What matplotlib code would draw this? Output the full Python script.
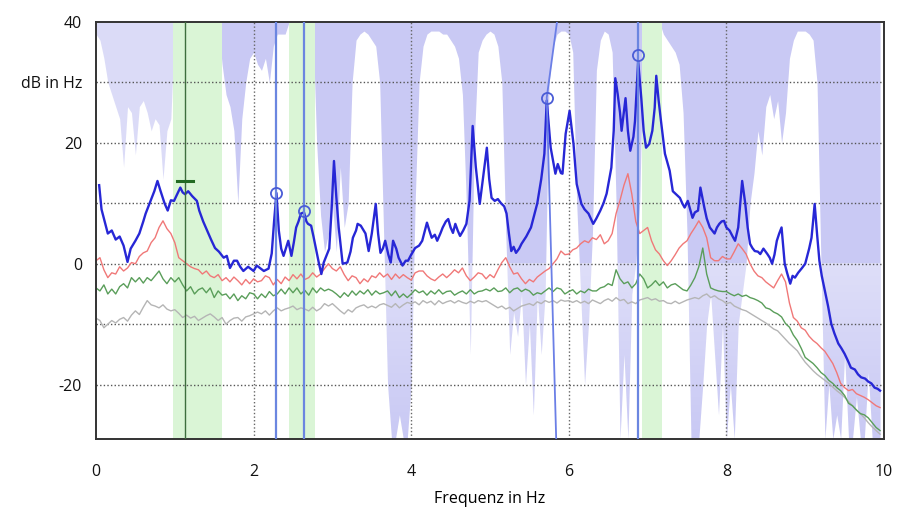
import numpy as np
import matplotlib
matplotlib.use("Agg")
from matplotlib import pyplot as plt

# Spectrum of the main channel (blue)
blue_f = [0.04, 0.07, 0.1, 0.15, 0.2, 0.25, 0.3, 0.35, 0.4, 0.44, 0.5, 0.55, 0.6, 0.63, 0.68, 0.74, 0.78,
          0.82, 0.87, 0.91, 0.95, 0.99, 1.03, 1.07, 1.1, 1.13, 1.17, 1.22, 1.28, 1.31, 1.36, 1.41, 1.46,
          1.51, 1.56, 1.62, 1.66, 1.7, 1.75, 1.79, 1.83, 1.87, 1.93, 2.0, 2.04, 2.08, 2.13, 2.19, 2.23,
          2.26, 2.29, 2.32, 2.35, 2.38, 2.44, 2.48, 2.51, 2.54, 2.57, 2.6, 2.64, 2.67, 2.69, 2.73, 2.76,
          2.79, 2.83, 2.86, 2.89, 2.93, 2.96, 2.99, 3.02, 3.05, 3.08, 3.13, 3.19, 3.23, 3.26, 3.3, 3.32,
          3.36, 3.42, 3.46, 3.5, 3.55, 3.58, 3.61, 3.64, 3.67, 3.71, 3.74, 3.77, 3.81, 3.84, 3.89, 3.93,
          3.96, 4.0, 4.05, 4.1, 4.14, 4.2, 4.23, 4.26, 4.3, 4.33, 4.37, 4.4, 4.44, 4.47, 4.5, 4.53, 4.56,
          4.59, 4.62, 4.66, 4.7, 4.74, 4.78, 4.82, 4.87, 4.92, 4.96, 4.99, 5.02, 5.06, 5.1, 5.14, 5.18,
          5.21, 5.24, 5.27, 5.3, 5.33, 5.37, 5.4, 5.46, 5.52, 5.56, 5.6, 5.65, 5.69, 5.72, 5.77, 5.8,
          5.83, 5.86, 5.9, 5.92, 5.96, 6.01, 6.06, 6.1, 6.16, 6.2, 6.25, 6.31, 6.35, 6.4, 6.44, 6.48,
          6.54, 6.57, 6.59, 6.62, 6.65, 6.67, 6.72, 6.75, 6.78, 6.82, 6.84, 6.88, 6.92, 6.95, 6.98, 7.02,
          7.06, 7.09, 7.11, 7.14, 7.17, 7.22, 7.28, 7.32, 7.36, 7.41, 7.44, 7.47, 7.51, 7.54, 7.57, 7.6,
          7.64, 7.67, 7.72, 7.75, 7.79, 7.85, 7.88, 7.91, 7.94, 7.97, 8.0, 8.04, 8.08, 8.11, 8.15, 8.2,
          8.24, 8.27, 8.3, 8.33, 8.36, 8.4, 8.43, 8.47, 8.52, 8.55, 8.58, 8.61, 8.64, 8.67, 8.7, 8.72,
          8.74, 8.77, 8.81, 8.84, 8.87, 8.91, 8.96, 9.0, 9.02, 9.05, 9.08, 9.1, 9.12, 9.15, 9.18, 9.21,
          9.25, 9.29, 9.33, 9.37, 9.42, 9.46, 9.5, 9.54, 9.58, 9.63, 9.67, 9.71, 9.76, 9.8, 9.84, 9.88,
          9.92, 9.95]
blue_db = [13, 9, 7.5, 5, 5.5, 4, 4.5, 3, 0.3, 2.5, 3.8, 5, 7, 8.3, 10, 12, 13.7,
           12, 10, 8.8, 10.5, 10.4, 11.5, 12.6, 11.8, 11.5, 12, 11.2, 10.4, 8.8, 7, 5.5, 4,
           2.6, 2, 1, 1.3, -0.7, 0.5, 0.5, -0.5, -1.2, -0.5, -1.2, -0.3, -0.7, -1.2, -0.8, 1.7,
           7, 11.7, 5.5, 2.5, 1.3, 3.8, 1.3, 3.5, 6, 7, 8.3, 8.5, 7, 6.6, 6.3, 4.5,
           2.6, 0, -1.7, 0.2, 1.5, 2.5, 9, 17, 11, 6, 0, 0.2, 2, 4.3, 5.5, 6.6,
           6.3, 5, 2.1, 5, 9.9, 5, 1.8, 2.5, 3.8, 1.5, 0.2, 3.8, 2.5, 1, -0.3, 0.5,
           0.5, 1.5, 2.6, 3, 3.8, 6.8, 5.5, 4.3, 4.8, 3.8, 5, 6, 7, 7.4, 6, 5.1, 6.6,
           5.5, 4.6, 5.5, 6.6, 10.4, 22.8, 16, 9.9, 15, 19.2, 14, 10.9, 10.4, 10.7, 10, 9.5,
           8.3, 5, 2.1, 2.8, 1.8, 2.5, 3.3, 4.5, 6, 8, 10, 14, 18.2, 27, 19.2, 17,
           14.9, 16.5, 15, 14.9, 21.5, 25.3, 19.8, 13.2, 9.9, 9, 8.3, 6.6, 7.5, 8.8, 10, 11.6,
           15.9, 22, 30.7, 28.1, 25, 22, 27.4, 22, 18.7, 21, 23.6, 33.5, 27.4, 22, 19.2, 19.8,
           22, 25.8, 31.1, 27, 23.6, 18.2, 15.4, 12, 11.5, 10.9, 10, 9.3, 10.4, 9, 7.6, 8.5,
           8.8, 12.6, 9.3, 7.5, 6, 5, 6, 6.6, 7, 7.1, 6, 5.5, 4.5, 3.8, 6, 13.7,
           9.9, 6, 3.3, 2.6, 2.1, 2, 1.6, 2.5, 1.6, 1, 0, 1.5, 3.8, 5, 6, 3,
           0, -1.5, -3.3, -2, -2.3, -1.5, -0.7, 0, 1, 2.5, 4.3, 7, 9.9, 5, 0.5, -2,
           -4.5, -7, -9.9, -11.5, -13.2, -14, -14.9, -16, -17.2, -17.5, -18.3, -18.8, -19, -19.5, -19.8, -20.5,
           -20.7, -21]

# Other channels on a 0.05 Hz grid (0.00 ... 9.95), one row per Hz
red_db = [
    0.5, 1, -1, -2.3, -1.5, -1.7, -0.5, -1.2, -0.7, 0.2, 0, 1.2, 1.8, 2.1, 3.5, 4.3, 6, 7.1, 5.8, 5,
    3.5, 1, 0.5, 0, -0.5, -0.8, -1, -1.7, -1.2, -2, -2.3, -1.8, -2.8, -2.3, -3, -2.2, -2.8, -3.5, -2.6, -3.3,
    -2.5, -3, -2.8, -2, -2.3, -3.5, -2.6, -3.3, -2.2, -2.8, -1.8, -2.5, -1.7, -2.6, -2.3, -1.5, -2.2, -1.7, -0.8, 0,
    -0.8, -1.2, -0.5, -1.8, -2.8, -2, -2.3, -3.3, -2.5, -3, -2, -2.3, -1.5, -2.2, -1.7, -2.6, -1.7, -2.4, -1.8, -2.3,
    -2.7, -1.5, -1.2, -1.2, -2, -2.5, -2.8, -2.2, -1.7, -2.3, -1.7, -1, -1.5, -0.7, -2, -2.8, -2.2, -1.5, -1.7, -2.5,
    -1.8, -2.3, -1, 0.2, 1, -0.5, -1.7, -1.5, -2.5, -3.3, -2.6, -3, -2.2, -1.7, -1.2, -0.8, 0, 0.8, 2.1, 1.5,
    1.6, 2.3, 2.6, 3.3, 3.8, 3.5, 4.3, 4, 4.8, 3.3, 3.8, 5, 8.3, 10.5, 13, 14.9, 11.5, 7, 5, 5.5,
    6, 3.8, 2.3, 1.6, 0.5, -0.3, 0.5, 1.5, 2.6, 3.3, 3.8, 5, 6, 7.1, 6, 4.3, 1, 0.5, 0.5, 1.2,
    0.8, 0.8, 2, 3.3, 2.5, 1.6, 0, -1.2, -2, -2.3, -3, -3.5, -4, -2.8, -1.7, -3, -6.5, -8.9, -9.5, -10.6,
    -11, -12, -12.7, -13.2, -13.9, -14.5, -15.5, -16.5, -18, -19.8, -20.5, -21, -20.8, -21.5, -21.8, -22.1, -22.5, -23, -23.5, -23.8,
]
green_db = [
    -4, -4.5, -3.5, -5, -4.2, -5, -3.8, -3.3, -4, -2.3, -3, -2.3, -3.2, -2.3, -2.8, -2, -1.2, -2.5, -3.3, -2.3,
    -3, -2.3, -3.5, -4.5, -3.8, -5, -4.3, -4, -4.8, -4, -5.6, -4.5, -5.2, -5, -5.8, -5, -6.1, -5.3, -5.8, -4.8,
    -5, -5.8, -5, -5.6, -4.6, -5.3, -5, -4.2, -5, -4, -4.8, -4, -5, -4.4, -5.2, -4, -4.8, -4, -4.5, -4.2,
    -4.5, -5, -5.6, -4.8, -5.4, -4.5, -5.2, -4.5, -5, -4.3, -5.2, -4.5, -5, -4.8, -4.5, -5.3, -4.5, -5.6, -5, -5.6,
    -5, -4.3, -4.8, -4.5, -5.2, -4.5, -5, -4.3, -5, -4.6, -4.5, -5.2, -4.8, -4.5, -5, -4.3, -5, -4.6, -4.5, -4.2,
    -4.5, -4, -4.6, -4.5, -4, -4.8, -4.2, -4, -4.6, -4.2, -4.5, -5.2, -4.8, -5, -4.5, -4, -4.6, -4, -4.2, -5,
    -4.6, -4.3, -5, -4.5, -4.8, -4.2, -4.5, -4.5, -4, -3.8, -3.3, -3.6, -1, -2.5, -3.3, -3, -4, -3.3, -1.7, -2.5,
    -4, -3.5, -2.8, -3.6, -3, -4, -3.5, -3.3, -3.8, -4.3, -4.5, -3.5, -2.3, -0.5, 2.6, -1.7, -4, -4.3, -4.5, -4.6,
    -4.6, -5, -5.3, -5, -5.4, -5.2, -5.6, -5.8, -6.1, -6.5, -7.3, -7.5, -8, -8.3, -8.8, -9.9, -10.5, -11.8, -12.7, -14,
    -15.5, -16, -16.5, -17.2, -18, -18.5, -19.3, -19.8, -20.5, -21, -21.8, -23.1, -23.5, -24.2, -24.8, -25, -25.5, -26.3, -27.1, -27.6,
]
gray_db = [
    -9, -9.4, -10.6, -10, -9.4, -9.8, -9.2, -8.9, -9.5, -8.5, -7.8, -8.4, -7.2, -6.1, -6.8, -7, -7.3, -6.8, -7.5, -7.8,
    -7.6, -8.2, -8.9, -8.5, -9, -8.7, -9.4, -9, -8.6, -8.3, -8.8, -9.4, -8.9, -10, -9.4, -9, -8.9, -9.5, -8.8, -8.6,
    -8.3, -8, -8.3, -7.8, -8.5, -7.8, -7.3, -7.8, -7.5, -7.3, -7, -7.6, -7.3, -7.5, -7.8, -7.2, -7.8, -7.4, -6.6, -7,
    -6.6, -7.2, -7.8, -8.3, -7.6, -8, -7.3, -7, -6.8, -7.3, -7, -7.3, -6.8, -6.6, -6.9, -7.2, -6.6, -7.3, -6.8, -6.4,
    -6.6, -6.3, -6.8, -6.1, -6.5, -6.2, -6.8, -6.1, -6.6, -6.3, -6.1, -6.5, -6.1, -6.4, -6.6, -6.2, -6.5, -6.1, -6.3, -6.1,
    -6.5, -6.9, -7.3, -7, -7.5, -7.2, -7.8, -7.4, -7, -6.8, -6.6, -6.9, -6.3, -6.6, -6.1, -6.4, -6.1, -6.5, -6, -6.2,
    -6.1, -6.4, -6.1, -6.5, -6.2, -6.6, -6, -6.3, -6.6, -6.1, -5.8, -6.2, -5.6, -6.1, -5.9, -6.6, -6.3, -6.6, -6, -5.8,
    -5.6, -6, -5.8, -6.2, -6.1, -6.5, -6.6, -6.2, -6.6, -6.3, -6, -5.8, -5.6, -5.8, -5.3, -5, -5.6, -5.3, -5.8, -6.1,
    -6.6, -6.4, -7, -7.3, -7.6, -7.8, -8.2, -8.6, -9, -9.4, -9.8, -10.3, -10.8, -11.1, -11.8, -12.5, -13.2, -13.8, -14.4, -15.4,
    -16.3, -17, -17.7, -18.3, -18.8, -19.3, -19.8, -20.4, -21, -21.5, -22.1, -22.8, -23.5, -24.2, -24.8, -25.5, -26.3, -27, -27.6, -28.2,
]

# Blue background: level (dB) down to which the shading reaches, 0.05 Hz grid
shade_floor = [
    38, 37, 34, 30, 28, 26, 24, 16, 26, 25, 18, 26, 27, 25, 22, 24, 23, 14, 22, 24,
    40, 40, 40, 40, 40, 40, 40, 40, 40, 40, 40, 40, 33, 28, 26, 22, 10, 24, 30, 34,
    35, 33, 32, 34, 30, 36, 38, 38, 38, 40, 40, 40, 40, 40, 40, 40, 20, 8, 2, 5,
    10, 2, 16, 6, 10, 30, 37, 38, 38.5, 38, 37, 36, 30, 5, -20, -29, -29, -25, -29, -29,
    -20, 10, 30, 36, 38, 38.5, 38.5, 38.5, 38, 38, 37, 36, 34, 28, 10, -15, 20, 35, 37, 38,
    38.5, 38, 36, 30, 5, -15, -8, -12, -5, -20, -10, -25, -5, -15, -5, 30, 36, 38, 38.5, 38.5,
    38, 35, 10, -5, -20, -10, 5, 32, 37, 38.5, 38, 35, 10, -29, -15, -29, -5, 0, 10, 40,
    40, 40, 40, 40, 38, 37, 36, 35, 33, 25, 5, -29, -29, -29, -20, -10, -5, -15, -25, -10,
    -29, -20, -29, -10, -5, 0, 10, 15, 22, 18, 26, 28, 24, 27, 20, 25, 34, 37, 38.5, 38.5,
    38.5, 38, 37, 30, 0, -29, -20, -29, -25, -29, -15, -29, -29, -22, -29, -29, -18, -29, -29, -29,
]
green_bands = [(0.98, 1.6), (2.45, 2.78), (6.93, 7.18)]
pale_span = (0.0, 0.98)

# markers
peak_f = [2.29, 2.64, 5.72, 6.88]
peak_db = [11.7, 8.8, 27.5, 34.5]
cursor_f = 1.13
cursor_db = 13.7
slant_f = [5.85, 5.72, 5.84]
slant_db = [40, 27.5, -29]

yticks = [40, 30, 20, 0, -20]
ylabels = ["40", "dB in Hz", "20", "0", "-20"]
xticks = [0, 2, 4, 6, 8, 10]

plt.rcParams['font.family'] = ['Open Sans', 'DejaVu Sans']

fig = plt.figure(figsize=(9.12, 5.09), dpi=100)
ax = fig.add_axes([96 / 912, 1 - 439 / 509, 788 / 912, 417 / 509])
ax.set_xlim(0.04, 9.95)
ax.set_ylim(-29, 40)

grid = np.arange(len(red_db)) * 0.05
ax.fill_between(grid, shade_floor, 40, color='#c9c9f4', lw=0, zorder=0)
ax.axvspan(*pale_span, color='white', alpha=0.35, lw=0, zorder=0.2)
# shading fades out towards the bottom
fade = np.ones((64, 2, 4))
fade[:, :, 3] = np.linspace(0, 0.4, 64)[:, None]
ax.imshow(fade, extent=(0.04, 9.95, 0, -29), aspect='auto', origin='upper',
          interpolation='bilinear', zorder=0.3)
ax.set_xlim(0.04, 9.95)
ax.set_ylim(-29, 40)
for lo, hi in green_bands:
    ax.axvspan(lo, hi, color='#daf5d6', lw=0, zorder=0.5)

for y in range(-20, 40, 10):
    ax.axhline(y, color='#555555', lw=1, ls=(0, (1, 1.6)), zorder=1)
for x in [2, 4, 6, 8]:
    ax.axvline(x, color='#666666', lw=1, ls=(0, (1, 1.6)), zorder=1)

ax.plot(grid, gray_db, color='#b5b5b5', lw=1, zorder=2)
ax.plot(grid, green_db, color='#5a9e5a', lw=1, zorder=2)
ax.plot(grid, red_db, color='#f07878', lw=1, zorder=2)
ax.plot(blue_f, blue_db, color='#2727d6', lw=1.7, zorder=3)

ax.axvline(cursor_f, color='#3d6e3d', lw=1, zorder=4)
ax.plot([cursor_f - 0.1, cursor_f + 0.1], [cursor_db, cursor_db], color='#236b23', lw=2.2, zorder=4)
for f in peak_f[:2] + peak_f[3:]:
    ax.axvline(f, color='#6b86e0', lw=1.6, zorder=4)
ax.plot(slant_f, slant_db, color='#6b7fe6', lw=1.3, zorder=4)
ax.plot(peak_f, peak_db, ls='none', marker='o', ms=8, mfc='none', mec='#4a5cd6', mew=1.3, zorder=5)

ax.set_yticks(yticks)
ax.set_yticklabels(ylabels)
ax.set_xticks(xticks)
ax.set_xticklabels([str(x) for x in xticks])
ax.tick_params(length=0, labelsize=11.5, colors='#111111')
ax.tick_params(axis='y', pad=10)
ax.tick_params(axis='x', pad=18)
ax.set_xlabel('Frequenz in Hz', fontsize=11.5, labelpad=8)
for s in ax.spines.values():
    s.set_color('#333333')
    s.set_linewidth(1.4)

fig.savefig('out.png', dpi=100)
